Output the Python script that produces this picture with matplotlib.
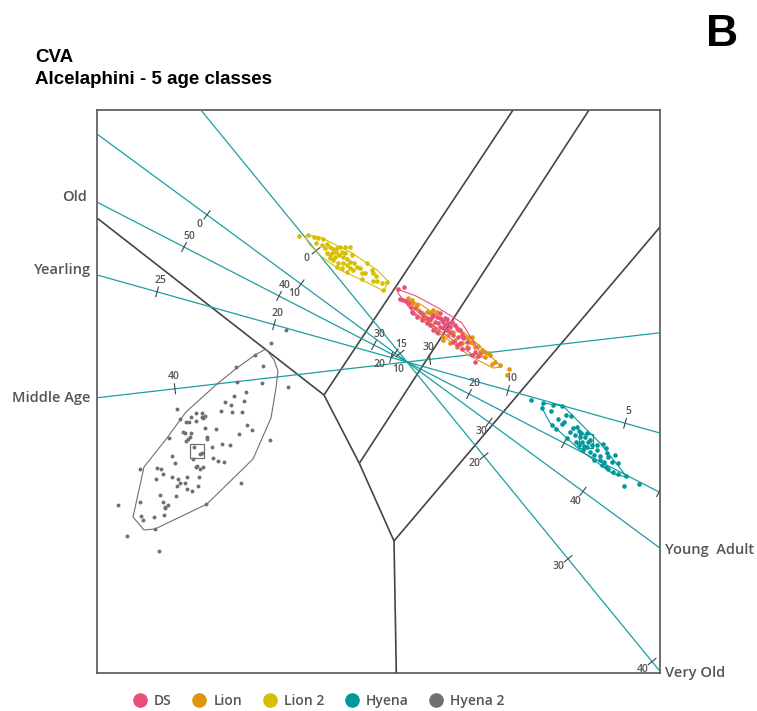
import numpy as np
import matplotlib
matplotlib.use("Agg")
import matplotlib.pyplot as plt
from matplotlib.lines import Line2D
from matplotlib.patches import Polygon

# ---------------------------------------------------------------- data
groups = ["DS", "Lion", "Lion 2", "Hyena", "Hyena 2"]
group_colors = ["#E8507A", "#DF960C", "#D6BE00", "#00989B", "#707070"]

# canonical variate scores (CV1, CV2) per sample
hyena2_scores = np.array([
    (-1.36, 0.19), (-1.52, 0.07), (-1.71, -0.05), (-1.44, -0.04), (-1.70, -0.20),
    (-1.45, -0.21), (-1.19, -0.25), (-1.61, -0.30), (-1.73, -0.34), (-1.82, -0.40),
    (-1.76, -0.43), (-1.63, -0.39), (-2.30, -0.47), (-2.11, -0.51), (-2.05, -0.51),
    (-2.02, -0.54), (-2.04, -0.56), (-1.86, -0.49), (-1.75, -0.50), (-1.65, -0.50),
    (-2.27, -0.57), (-2.21, -0.60), (-2.18, -0.60), (-2.11, -0.59), (-2.16, -0.55),
    (-2.05, -0.55), (-1.60, -0.63), (-1.55, -0.68), (-2.02, -0.66), (-1.91, -0.67),
    (-2.24, -0.70), (-2.22, -0.71), (-2.16, -0.71), (-1.68, -0.72), (-1.37, -0.78),
    (-2.38, -0.76), (-2.00, -0.75), (-2.00, -0.77), (-2.17, -0.75), (-2.19, -0.77),
    (-2.21, -0.79), (-2.13, -0.85), (-2.05, -0.91), (-2.07, -0.92), (-1.95, -0.85),
    (-1.85, -0.82), (-1.77, -0.83), (-2.35, -0.94), (-2.32, -1.01), (-2.14, -0.97),
    (-1.94, -0.96), (-1.89, -0.99), (-1.83, -1.00), (-2.10, -1.04), (-2.11, -1.05),
    (-2.07, -1.07), (-2.04, -1.05), (-2.50, -1.06), (-2.46, -1.07), (-2.67, -1.07),
    (-2.51, -1.17), (-2.44, -1.12), (-2.35, -1.15), (-2.29, -1.17), (-2.20, -1.15),
    (-2.08, -1.15), (-2.27, -1.21), (-2.30, -1.24), (-2.22, -1.21), (-2.20, -1.27),
    (-2.15, -1.29), (-2.09, -1.24), (-1.66, -1.21), (-2.47, -1.33), (-2.31, -1.34),
    (-2.44, -1.40), (-2.39, -1.43), (-2.42, -1.45), (-2.42, -1.46), (-2.67, -1.40),
    (-2.89, -1.43), (-2.66, -1.54), (-2.64, -1.58), (-2.53, -1.55), (-2.43, -1.53),
    (-2.01, -1.42), (-2.52, -1.67), (-2.80, -1.74), (-2.48, -1.89), (-1.21, 0.32),
])

hyena_scores = np.array([
    (1.24, -0.38), (1.36, -0.41), (1.46, -0.43), (1.55, -0.44), (1.35, -0.46),
    (1.44, -0.49), (1.59, -0.53), (1.64, -0.54), (1.51, -0.57), (1.57, -0.60),
    (1.55, -0.62), (1.45, -0.63), (1.49, -0.67), (1.66, -0.66), (1.72, -0.69),
    (1.63, -0.70), (1.74, -0.71), (1.80, -0.71), (1.68, -0.73), (1.73, -0.75),
    (1.78, -0.75), (1.83, -0.78), (1.75, -0.80), (1.72, -0.83), (1.77, -0.84),
    (1.80, -0.85), (1.85, -0.83), (1.90, -0.83), (1.96, -0.82), (1.99, -0.86),
    (1.83, -0.90), (1.87, -0.93), (1.93, -0.94), (2.01, -0.95), (2.08, -0.93),
    (2.11, -1.01), (2.05, -1.00), (1.93, -0.98), (1.97, -1.00), (1.99, -1.05),
    (2.01, -1.07), (2.06, -1.10), (2.11, -1.12), (2.19, -1.14), (2.17, -1.24),
    (2.32, -1.22), (1.69, -0.80), (1.76, -0.88), (1.90, -0.88), (1.60, -0.76),
    (1.95, -1.03), (1.81, -0.80), (1.87, -0.98), (2.00, -0.91), (1.70, -0.65),
])

lion2_scores = np.array([
    (-1.08, 1.26), (-0.99, 1.27), (-0.93, 1.25), (-0.89, 1.24), (-0.84, 1.23),
    (-0.91, 1.19), (-0.85, 1.17), (-0.80, 1.18), (-0.82, 1.14), (-0.77, 1.15),
    (-0.74, 1.13), (-0.70, 1.14), (-0.67, 1.15), (-0.62, 1.15), (-0.57, 1.15),
    (-0.55, 1.07), (-0.75, 1.09), (-0.72, 1.05), (-0.68, 1.07), (-0.65, 1.10),
    (-0.64, 1.05), (-0.60, 1.03), (-0.57, 1.00), (-0.53, 0.99), (-0.50, 0.95),
    (-0.47, 0.94), (-0.60, 0.97), (-0.64, 0.99), (-0.69, 0.99), (-0.74, 1.02),
    (-0.77, 1.04), (-0.54, 0.92), (-0.45, 0.89), (-0.42, 0.89), (-0.40, 0.99),
    (-0.35, 0.92), (-0.34, 0.89), (-0.31, 0.86), (-0.45, 0.83), (-0.34, 0.81),
    (-0.30, 0.81), (-0.25, 0.79), (-0.20, 0.80), (-0.24, 0.72), (-0.70, 0.95),
    (-0.65, 0.94), (-0.57, 0.94), (-0.60, 0.90), (-0.80, 1.09), (-0.77, 1.07),
    (-0.71, 1.10), (-0.62, 1.09),
])

lion_scores = np.array([
    (0.01, 0.64), (0.05, 0.62), (0.06, 0.59), (0.11, 0.52), (0.15, 0.49),
    (0.20, 0.50), (0.23, 0.49), (0.30, 0.50), (0.16, 0.44), (0.21, 0.40),
    (0.25, 0.37), (0.28, 0.34), (0.31, 0.29), (0.36, 0.25), (0.41, 0.27),
    (0.46, 0.30), (0.51, 0.32), (0.55, 0.29), (0.58, 0.25), (0.61, 0.24),
    (0.65, 0.25), (0.63, 0.20), (0.66, 0.19), (0.68, 0.15), (0.71, 0.16),
    (0.75, 0.12), (0.78, 0.10), (0.81, 0.09), (0.83, 0.07), (0.73, 0.09),
    (0.78, 0.05), (0.48, 0.22), (0.50, 0.15), (0.60, 0.15), (0.55, 0.19),
    (0.43, 0.19), (0.36, 0.22), (0.23, 0.42), (0.18, 0.45), (0.26, 0.52),
    (0.10, 0.57), (0.93, -0.03), (1.02, -0.07), (1.00, -0.13), (0.88, 0.00),
    (0.85, -0.02),
])

ds_scores = np.array([
    (-0.09, 0.73), (-0.03, 0.75), (-0.07, 0.63), (-0.04, 0.62), (-0.01, 0.61),
    (0.02, 0.59), (0.04, 0.55), (0.05, 0.50), (0.06, 0.49), (0.08, 0.54),
    (0.13, 0.50), (0.16, 0.47), (0.20, 0.44), (0.23, 0.43), (0.25, 0.45),
    (0.26, 0.47), (0.30, 0.45), (0.33, 0.49), (0.28, 0.40), (0.31, 0.39),
    (0.35, 0.42), (0.36, 0.40), (0.38, 0.44), (0.40, 0.43), (0.41, 0.39),
    (0.43, 0.35), (0.33, 0.35), (0.36, 0.34), (0.40, 0.32), (0.26, 0.32),
    (0.30, 0.30), (0.38, 0.37), (0.45, 0.40), (0.48, 0.37), (0.50, 0.34),
    (0.53, 0.32), (0.43, 0.30), (0.46, 0.27), (0.51, 0.25), (0.55, 0.27),
    (0.56, 0.24), (0.60, 0.20), (0.53, 0.19), (0.50, 0.17), (0.61, 0.14),
    (0.68, 0.10), (0.71, 0.06), (0.65, 0.07), (0.55, 0.13), (0.33, 0.44),
    (0.23, 0.37), (0.46, 0.20), (0.20, 0.39), (0.10, 0.45), (0.15, 0.42),
    (0.68, 0.00),
])

# 95% bags around each group
hyena2_bag = np.array([
    (-1.41, 0.13), (-1.33, 0.02), (-1.29, -0.09), (-1.31, -0.26), (-1.36, -0.56),
    (-1.54, -0.97), (-2.00, -1.42), (-2.52, -1.67), (-2.63, -1.68), (-2.74, -1.55),
    (-2.63, -1.05), (-2.40, -0.76), (-2.21, -0.50), (-1.90, -0.22), (-1.70, -0.06),
    (-1.52, 0.07),
])
hyena_bag = np.array([
    (1.36, -0.41), (1.56, -0.44), (1.93, -0.81), (2.20, -1.15), (2.06, -1.12),
    (1.73, -0.88), (1.43, -0.61), (1.35, -0.46),
])
lion2_bag = np.array([
    (-1.00, 1.27), (-0.87, 1.25), (-0.55, 1.09), (-0.30, 0.92), (-0.19, 0.81),
    (-0.23, 0.71), (-0.45, 0.82), (-0.67, 0.92), (-0.85, 1.05), (-0.97, 1.17),
    (-1.02, 1.25),
])
ds_bag = np.array([
    (-0.10, 0.73), (0.09, 0.66), (0.33, 0.53), (0.55, 0.39), (0.76, 0.05),
    (0.70, 0.04), (0.36, 0.29), (0.05, 0.51), (-0.09, 0.69),
])
lion_bag = np.array([
    (0.00, 0.62), (0.13, 0.58), (0.63, 0.25), (0.95, -0.05), (0.86, -0.06),
    (0.63, 0.06), (0.08, 0.47), (-0.01, 0.59),
])

# group means shown as open squares
hyena2_mean = (-2.10, -0.89)
hyena_mean = (1.79, -0.79)

# classification region boundaries (segments in CV space)
boundary_segments = [
    [(-3.10, 1.44), (-0.83, -0.33)],
    [(-0.83, -0.33), (1.06, 2.52)],
    [(-0.83, -0.33), (-0.477, -1.013)],
    [(-0.477, -1.013), (1.82, 2.52)],
    [(-0.477, -1.013), (-0.13, -1.79)],
    [(-0.13, -1.79), (2.53, 1.35)],
    [(-0.13, -1.79), (-0.107, -3.11)],
]

# calibrated biplot axes: variable mean and CV displacement per unit
axis_names = ["Young  Adult", "Old", "Yearling", "Middle Age", "Very Old"]
axis_means = [21.28, 26.53, 14.32, 30.90, 10.83]
axis_step_cv1 = [0.094, -0.095, -0.234, -0.255, 0.084]
axis_step_cv2 = [-0.06914, 0.049, 0.0657, -0.02945, -0.1027]
axis_ticks = [[0, 10, 20, 30, 40], [50, 40, 30, 20, 10, 0], [25, 20, 15, 10, 5],
              [40, 30], [0, 10, 20, 30, 40]]
axis_tick_labels = [[0, 10, 20, 30, 40], [50, 40, 30, 20], [25, 20, 15, 10, 5],
                    [40, 30], [0, 10, 20, 30, 40]]

# ---------------------------------------------------------------- style
TEAL = "#1A9FA3"
FRAME = "#555555"
BOUNDARY = "#444444"
TEXT_GREY = "#555555"
SANS = ["Open Sans", "DejaVu Sans"]

W, H = 757, 711
fig = plt.figure(figsize=(W / 100, H / 100), dpi=100)
ax = fig.add_axes([97 / W, 1 - 673 / H, 563 / W, 563 / H])
xmin, xmax, ymin, ymax = -3.10, 2.53, -3.11, 2.52
ax.set_xlim(xmin, xmax)
ax.set_ylim(ymin, ymax)
ax.set_xticks([])
ax.set_yticks([])
for sp in ax.spines.values():
    sp.set_color(FRAME)
    sp.set_linewidth(1.2)

# region boundaries
for seg in boundary_segments:
    (x0, y0), (x1, y1) = seg
    ax.plot([x0, x1], [y0, y1], color=BOUNDARY, lw=1.2, zorder=2,
            solid_capstyle="butt")

# biplot axes with calibration ticks
PX = 0.01  # one pixel in CV units
label_nudge = {
    ("Young  Adult", 20): (-15, -11),
    ("Very Old", 10): (-1.5, -16),
    ("Yearling", 15): (10, 13),
}
name_offsets = {
    "Young  Adult": (5, -2), "Old": (-10, 5), "Yearling": (-6, 5),
    "Middle Age": (-7, 0), "Very Old": (5, -2),
}


def exit_point(sx, sy):
    ts = []
    if sx > 0:
        ts.append(xmax / sx)
    elif sx < 0:
        ts.append(xmin / sx)
    if sy > 0:
        ts.append(ymax / sy)
    elif sy < 0:
        ts.append(ymin / sy)
    t = min(ts)
    return t * sx, t * sy


for name, mean, sx, sy, ticks, shown in zip(axis_names, axis_means, axis_step_cv1,
                                            axis_step_cv2, axis_ticks, axis_tick_labels):
    ax.axline((0, 0), (sx, sy), color=TEAL, lw=0.9, zorder=3)
    norm = np.hypot(sx, sy)
    nx, ny = -sy / norm, sx / norm
    half = 5 * PX
    for v in ticks:
        cx, cy = (v - mean) * sx, (v - mean) * sy
        ax.plot([cx - half * nx, cx + half * nx], [cy - half * ny, cy + half * ny],
                color="#444444", lw=0.8, zorder=4)
        if v in shown:
            off = label_nudge.get((name, v), (-12 * nx, -12 * ny))
            ax.annotate(str(v), (cx, cy), xytext=(off[0] * 0.72, off[1] * 0.72),
                        textcoords="offset points", ha="center", va="center",
                        fontsize=7.5, color=TEXT_GREY, family=SANS,
                        fontweight="semibold", zorder=4)
    ex, ey = exit_point(sx, sy)
    dx, dy = name_offsets[name]
    ax.annotate(name, (ex, ey), xytext=(dx * 0.72, dy * 0.72),
                textcoords="offset points", ha="left" if dx > 0 else "right",
                va="center", fontsize=10.5, color=TEXT_GREY, family=SANS,
                fontweight="semibold", annotation_clip=False)

# bags and samples
score_sets = [hyena2_scores, hyena_scores, lion2_scores, lion_scores, ds_scores]
bag_sets = [hyena2_bag, hyena_bag, lion2_bag, lion_bag, ds_bag]
set_colors = [group_colors[4], group_colors[3], group_colors[2], group_colors[1],
              group_colors[0]]
dot_sizes = [8, 11, 11, 11, 11]
for k, (pts, bag, col, sz) in enumerate(zip(score_sets, bag_sets, set_colors, dot_sizes)):
    ax.add_patch(Polygon(bag, closed=True, fill=False, edgecolor=col, lw=0.8,
                         zorder=5 + 2 * k))
    ax.scatter(pts[:, 0], pts[:, 1], s=sz, color=col, linewidths=0,
               zorder=6 + 2 * k)

ax.scatter(*hyena2_mean, marker="s", s=110, facecolors="none",
           edgecolors=group_colors[4], linewidths=0.9, zorder=20)
ax.scatter(*hyena_mean, marker="s", s=110, facecolors="none",
           edgecolors=group_colors[3], linewidths=0.9, zorder=20)

# titles
fig.text(35 / W, 1 - 62 / H, "CVA", fontsize=13.5, fontweight="bold",
         family="Liberation Sans", va="baseline", ha="left")
fig.text(35 / W, 1 - 84 / H, "Alcelaphini - 5 age classes", fontsize=13.5,
         fontweight="bold", family="Liberation Sans", va="baseline", ha="left")
fig.text(706 / W, 1 - 46 / H, "B", fontsize=32, fontweight="bold",
         family="Liberation Sans", va="baseline", ha="left")

# legend
handles = [Line2D([], [], marker="o", linestyle="none", markersize=9.5,
                  markerfacecolor=c, markeredgecolor=c) for c in group_colors]
fig.legend(handles, groups, loc="center left",
           bbox_to_anchor=(133 / W, 1 - 701 / H), ncol=5, frameon=False,
           handlelength=1.0, handletextpad=0.5, columnspacing=1.5,
           labelcolor=TEXT_GREY,
           prop={"family": SANS, "size": 10, "weight": "semibold"},
           borderaxespad=0, borderpad=0)

fig.savefig("out.png", dpi=100)
